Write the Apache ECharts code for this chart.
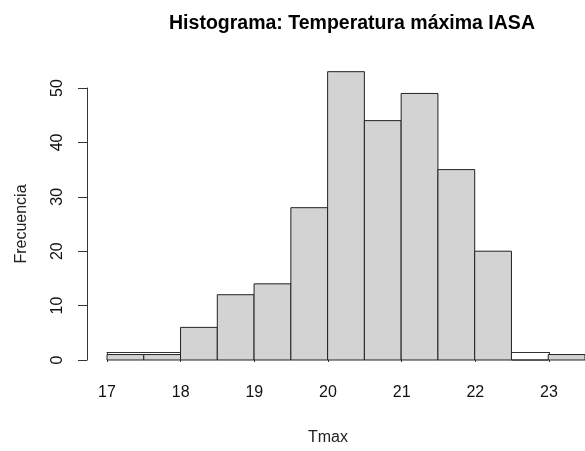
<!DOCTYPE html>
<html><head><meta charset="utf-8">
<script src="https://cdn.jsdelivr.net/npm/echarts@6/dist/echarts.min.js"></script>
<style>html,body{margin:0;padding:0;background:#fff}#c{width:585px;height:451px}</style>
</head><body><div id="c"></div>
<script>
const binStarts = [17, 17.5, 18, 18.5, 19, 19.5, 20, 20.5, 21, 21.5, 22, 22.5, 23];
const binWidth = 0.5;
const counts = [1, 1, 6, 12, 14, 28, 53, 44, 49, 35, 20, 0, 1];
const xTicks = [17, 18, 19, 20, 21, 22, 23];
const yTicks = [0, 10, 20, 30, 40, 50];

const data = binStarts.map((s, i) => [s, s + binWidth, counts[i]]);
const font = '"Liberation Sans", Arial, sans-serif';

const chart = echarts.init(document.getElementById('c'), null, {renderer: 'canvas'});
chart.setOption({
  animation: false,
  title: {
    text: 'Histograma: Temperatura máxima IASA',
    left: 347, top: 9, textAlign: 'center',
    textStyle: {fontFamily: font, fontSize: 19.5, fontWeight: 'bold', color: '#000'}
  },
  grid: [
    {left: 107, width: 479, top: 88, bottom: 91},
    {left: 107, width: 442, top: 88, bottom: 91}
  ],
  xAxis: [
    {gridIndex: 0, type: 'value', min: 17, max: 23.5, show: false},
    {gridIndex: 1, type: 'value', min: 17, max: 23, interval: 1, position: 'bottom', offset: 12,
     axisLine: {show: true, lineStyle: {color: '#333', width: 1}},
     axisTick: {show: true, length: 10, lineStyle: {color: '#333'}},
     splitLine: {show: false},
     axisLabel: {margin: 21, fontFamily: font, fontSize: 16, color: '#111'},
     name: 'Tmax', nameLocation: 'middle', nameGap: 66,
     nameTextStyle: {fontFamily: font, fontSize: 16, color: '#222'}}
  ],
  yAxis: [
    {gridIndex: 0, type: 'value', min: 0, max: 50, interval: 10, position: 'left', offset: 20,
     axisLine: {show: true, lineStyle: {color: '#333', width: 1}},
     axisTick: {show: true, length: 9, lineStyle: {color: '#333'}},
     splitLine: {show: false},
     axisLabel: {margin: 21, rotate: 90, fontFamily: font, fontSize: 16, color: '#111'},
     name: 'Frecuencia', nameLocation: 'middle', nameGap: 57, nameRotate: 90,
     nameTextStyle: {fontFamily: font, fontSize: 16, color: '#222'}},
    {gridIndex: 1, type: 'value', min: 0, max: 50, show: false}
  ],
  series: [{
    type: 'custom',
    xAxisIndex: 0, yAxisIndex: 0,
    clip: false,
    data: data,
    renderItem: function (params, api) {
      const p0 = api.coord([api.value(0), 0]);
      const p1 = api.coord([api.value(1), api.value(2)]);
      return {
        type: 'rect',
        shape: {x: p0[0], y: p1[1], width: p1[0] - p0[0], height: p0[1] - p1[1]},
        style: {fill: '#D3D3D3', stroke: '#222', lineWidth: 1}
      };
    }
  }]
});
</script></body></html>
